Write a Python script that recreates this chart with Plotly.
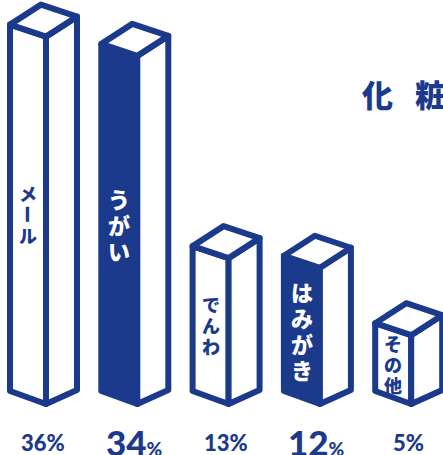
import plotly.graph_objects as go

# ---- data ----
categories = ["メール", "うがい", "でんわ", "はみがき", "その他"]
values = [36, 34, 13, 12, 5]
highlight = [False, True, False, True, False]
pct_numbers = ["36", "34", "13", "12", "5"]
title_chars = ["化", "粧"]

# ---- style ----
NAVY = "#1b3a8c"
W, H = 443, 455
FONT = "Noto Sans CJK JP"
NUM_FONT = "Lato, Noto Sans CJK JP"

# pixel-space scale for bar heights (front edge)
BASE_Y = 404
H0, K = 20.7, 9.63
X0, STEP = 10, 91.3
FW, SW = 36, 31          # front width, side width
LW = 6

fig = go.Figure()
fig.add_trace(go.Scatter(x=[0, W], y=[0, H], mode="markers",
                         marker=dict(opacity=0), hoverinfo="skip", showlegend=False))

shapes, annotations = [], []
for i, (cat, v, hl) in enumerate(zip(categories, values, highlight)):
    L = X0 + STEP * i
    F = L + FW
    R = F + SW
    B = L + SW
    b = BASE_Y
    t = b - (H0 + K * v)
    front = f"M {L},{t-12} L {F},{t} L {F},{b} L {L},{b-13} Z"
    side = f"M {F},{t} L {R},{t-20} L {R},{b-14} L {F},{b} Z"
    top = f"M {L},{t-12} L {B},{t-32} L {R},{t-20} L {F},{t} Z"
    for path, fill in ((front, NAVY if hl else "white"), (side, "white"), (top, "white")):
        shapes.append(dict(type="path", path=path, xref="x", yref="y",
                           fillcolor=fill, line=dict(color=NAVY, width=LW), layer="above"))

    # vertical label inside front face
    fs = 22 if hl else 18
    step = 26 if hl else 21
    n = len(cat)
    cy = (t + b) / 2 - 6
    y_start = cy - step * (n - 1) / 2
    for j, ch in enumerate(cat):
        annotations.append(dict(
            x=L + 18, y=y_start + step * j, xref="x", yref="y",
            text=ch, showarrow=False,
            textangle=90 if ch == "ー" else 0,
            font=dict(family=FONT, size=fs, color="white" if hl else NAVY, weight=900),
            xanchor="center", yanchor="middle"))

    # percentage label
    if hl:
        txt = (f"<span style='font-size:35px'>{pct_numbers[i]}</span>"
               f"<span style='font-size:19px'>%</span>")
    else:
        txt = f"{pct_numbers[i]}%"
    annotations.append(dict(
        x=L + 33, y=442, xref="x", yref="y", text=txt, showarrow=False,
        font=dict(family=NUM_FONT, size=22, color=NAVY, weight=900),
        xanchor="center", yanchor="middle"))

# partial title at top right
for k, ch in enumerate(title_chars):
    annotations.append(dict(
        x=377 + 53 * k, y=93, xref="x", yref="y", text=ch,
        showarrow=False, font=dict(family=FONT, size=31, color=NAVY, weight=900),
        xanchor="center", yanchor="middle"))

fig.update_layout(
    width=W, height=H,
    margin=dict(l=0, r=0, t=0, b=0),
    paper_bgcolor="white", plot_bgcolor="white",
    xaxis=dict(range=[0, W], visible=False, fixedrange=True),
    yaxis=dict(range=[H, 0], visible=False, fixedrange=True),
    shapes=shapes, annotations=annotations, showlegend=False,
)

fig.write_html(
    "out.html",
    config={"displayModeBar": False, "staticPlot": True},
    post_script=(
        "document.body.style.margin='0';document.body.style.overflow='hidden';"
        "var s=document.createElement('style');"
        "s.textContent='.shapelayer path{stroke-linejoin:round !important;}';"
        "document.head.appendChild(s);"
    ),
)
